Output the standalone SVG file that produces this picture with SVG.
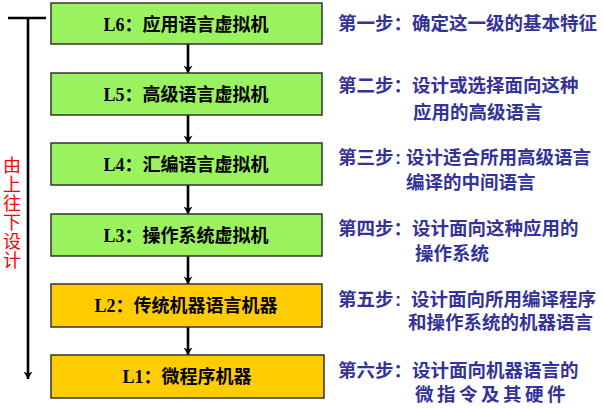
<svg xmlns="http://www.w3.org/2000/svg" width="603" height="408" viewBox="0 0 603 408">
<defs>
<marker id="ah" viewBox="0 0 10 12" refX="10" refY="6" markerWidth="10" markerHeight="9" markerUnits="userSpaceOnUse" orient="auto"><path d="M0,0 L10,6 L0,12 L3,6 z" fill="#000"/></marker>
<style>
.box{stroke:#333;stroke-width:1.5}
.g{fill:#99F25E}
.y{fill:#FFCC00}
.bt{font-family:"Liberation Serif","Noto Sans CJK SC",serif;font-weight:bold;font-size:18px;fill:#000;text-anchor:middle}
.st{font-family:"Liberation Sans","Noto Sans CJK SC",sans-serif;font-weight:bold;font-size:18.5px;fill:#333399}
.red{font-family:"Liberation Sans","Noto Sans CJK SC",sans-serif;font-size:18px;fill:#FF0000;text-anchor:middle}
.c{stroke:#000;stroke-width:2.6;fill:none}
</style>
</defs>
<rect width="603" height="408" fill="#fff"/>
<g id="connectors">
<line class="c" x1="188" y1="44" x2="188" y2="73" marker-end="url(#ah)"/>
<line class="c" x1="188" y1="115" x2="188" y2="143" marker-end="url(#ah)"/>
<line class="c" x1="188" y1="185" x2="188" y2="214" marker-end="url(#ah)"/>
<line class="c" x1="188" y1="256" x2="188" y2="284" marker-end="url(#ah)"/>
<line class="c" x1="188" y1="327" x2="188" y2="355" marker-end="url(#ah)"/>
<line class="c" x1="8" y1="18" x2="46" y2="18" stroke-width="2"/>
<line class="c" x1="28" y1="17" x2="28" y2="379" marker-end="url(#ah)"/>
</g>
<g id="L6"><rect class="box g" x="51" y="3" width="271" height="41"/><text class="bt" x="186" y="31">L6：应用语言虚拟机</text></g>
<g id="L5"><rect class="box g" x="51" y="73" width="271" height="42"/><text class="bt" x="186" y="101">L5：高级语言虚拟机</text></g>
<g id="L4"><rect class="box g" x="51" y="143" width="271" height="42"/><text class="bt" x="186" y="171">L4：汇编语言虚拟机</text></g>
<g id="L3"><rect class="box g" x="51" y="214" width="271" height="42"/><text class="bt" x="186" y="242">L3：操作系统虚拟机</text></g>
<g id="L2"><rect class="box y" x="51" y="284" width="271" height="43"/><text class="bt" x="186" y="312">L2：传统机器语言机器</text></g>
<g id="L1"><rect class="box y" x="51" y="355" width="273" height="43"/><text class="bt" x="187" y="383">L1：微程序机器</text></g>
<g id="label">
<text class="red" x="12" y="172">由</text>
<text class="red" x="12" y="191">上</text>
<text class="red" x="12" y="210">往</text>
<text class="red" x="12" y="229">下</text>
<text class="red" x="12" y="248">设</text>
<text class="red" x="12" y="267">计</text>
</g>
<g id="steps">
<text class="st" x="338" y="30">第一步：确定这一级的基本特征</text>
<text class="st" x="338" y="92">第二步：设计或选择面向这种</text>
<text class="st" x="413" y="119">应用的高级语言</text>
<text class="st" x="338" y="164">第三步<tspan x="395">:</tspan><tspan x="406">设计适合所用高级语言</tspan></text>
<text class="st" x="406" y="189">编译的中间语言</text>
<text class="st" x="338" y="235">第四步：设计面向这种应用的</text>
<text class="st" x="415" y="260">操作系统</text>
<text class="st" x="338" y="306">第五步<tspan x="395">:</tspan><tspan x="411">设计面向所用编译程序</tspan></text>
<text class="st" x="408" y="329">和操作系统的机器语言</text>
<text class="st" x="338" y="377">第六步：设计面向机器语言的</text>
<text class="st" x="415" y="401" letter-spacing="3.5">微指令及其硬件</text>
</g>
</svg>
